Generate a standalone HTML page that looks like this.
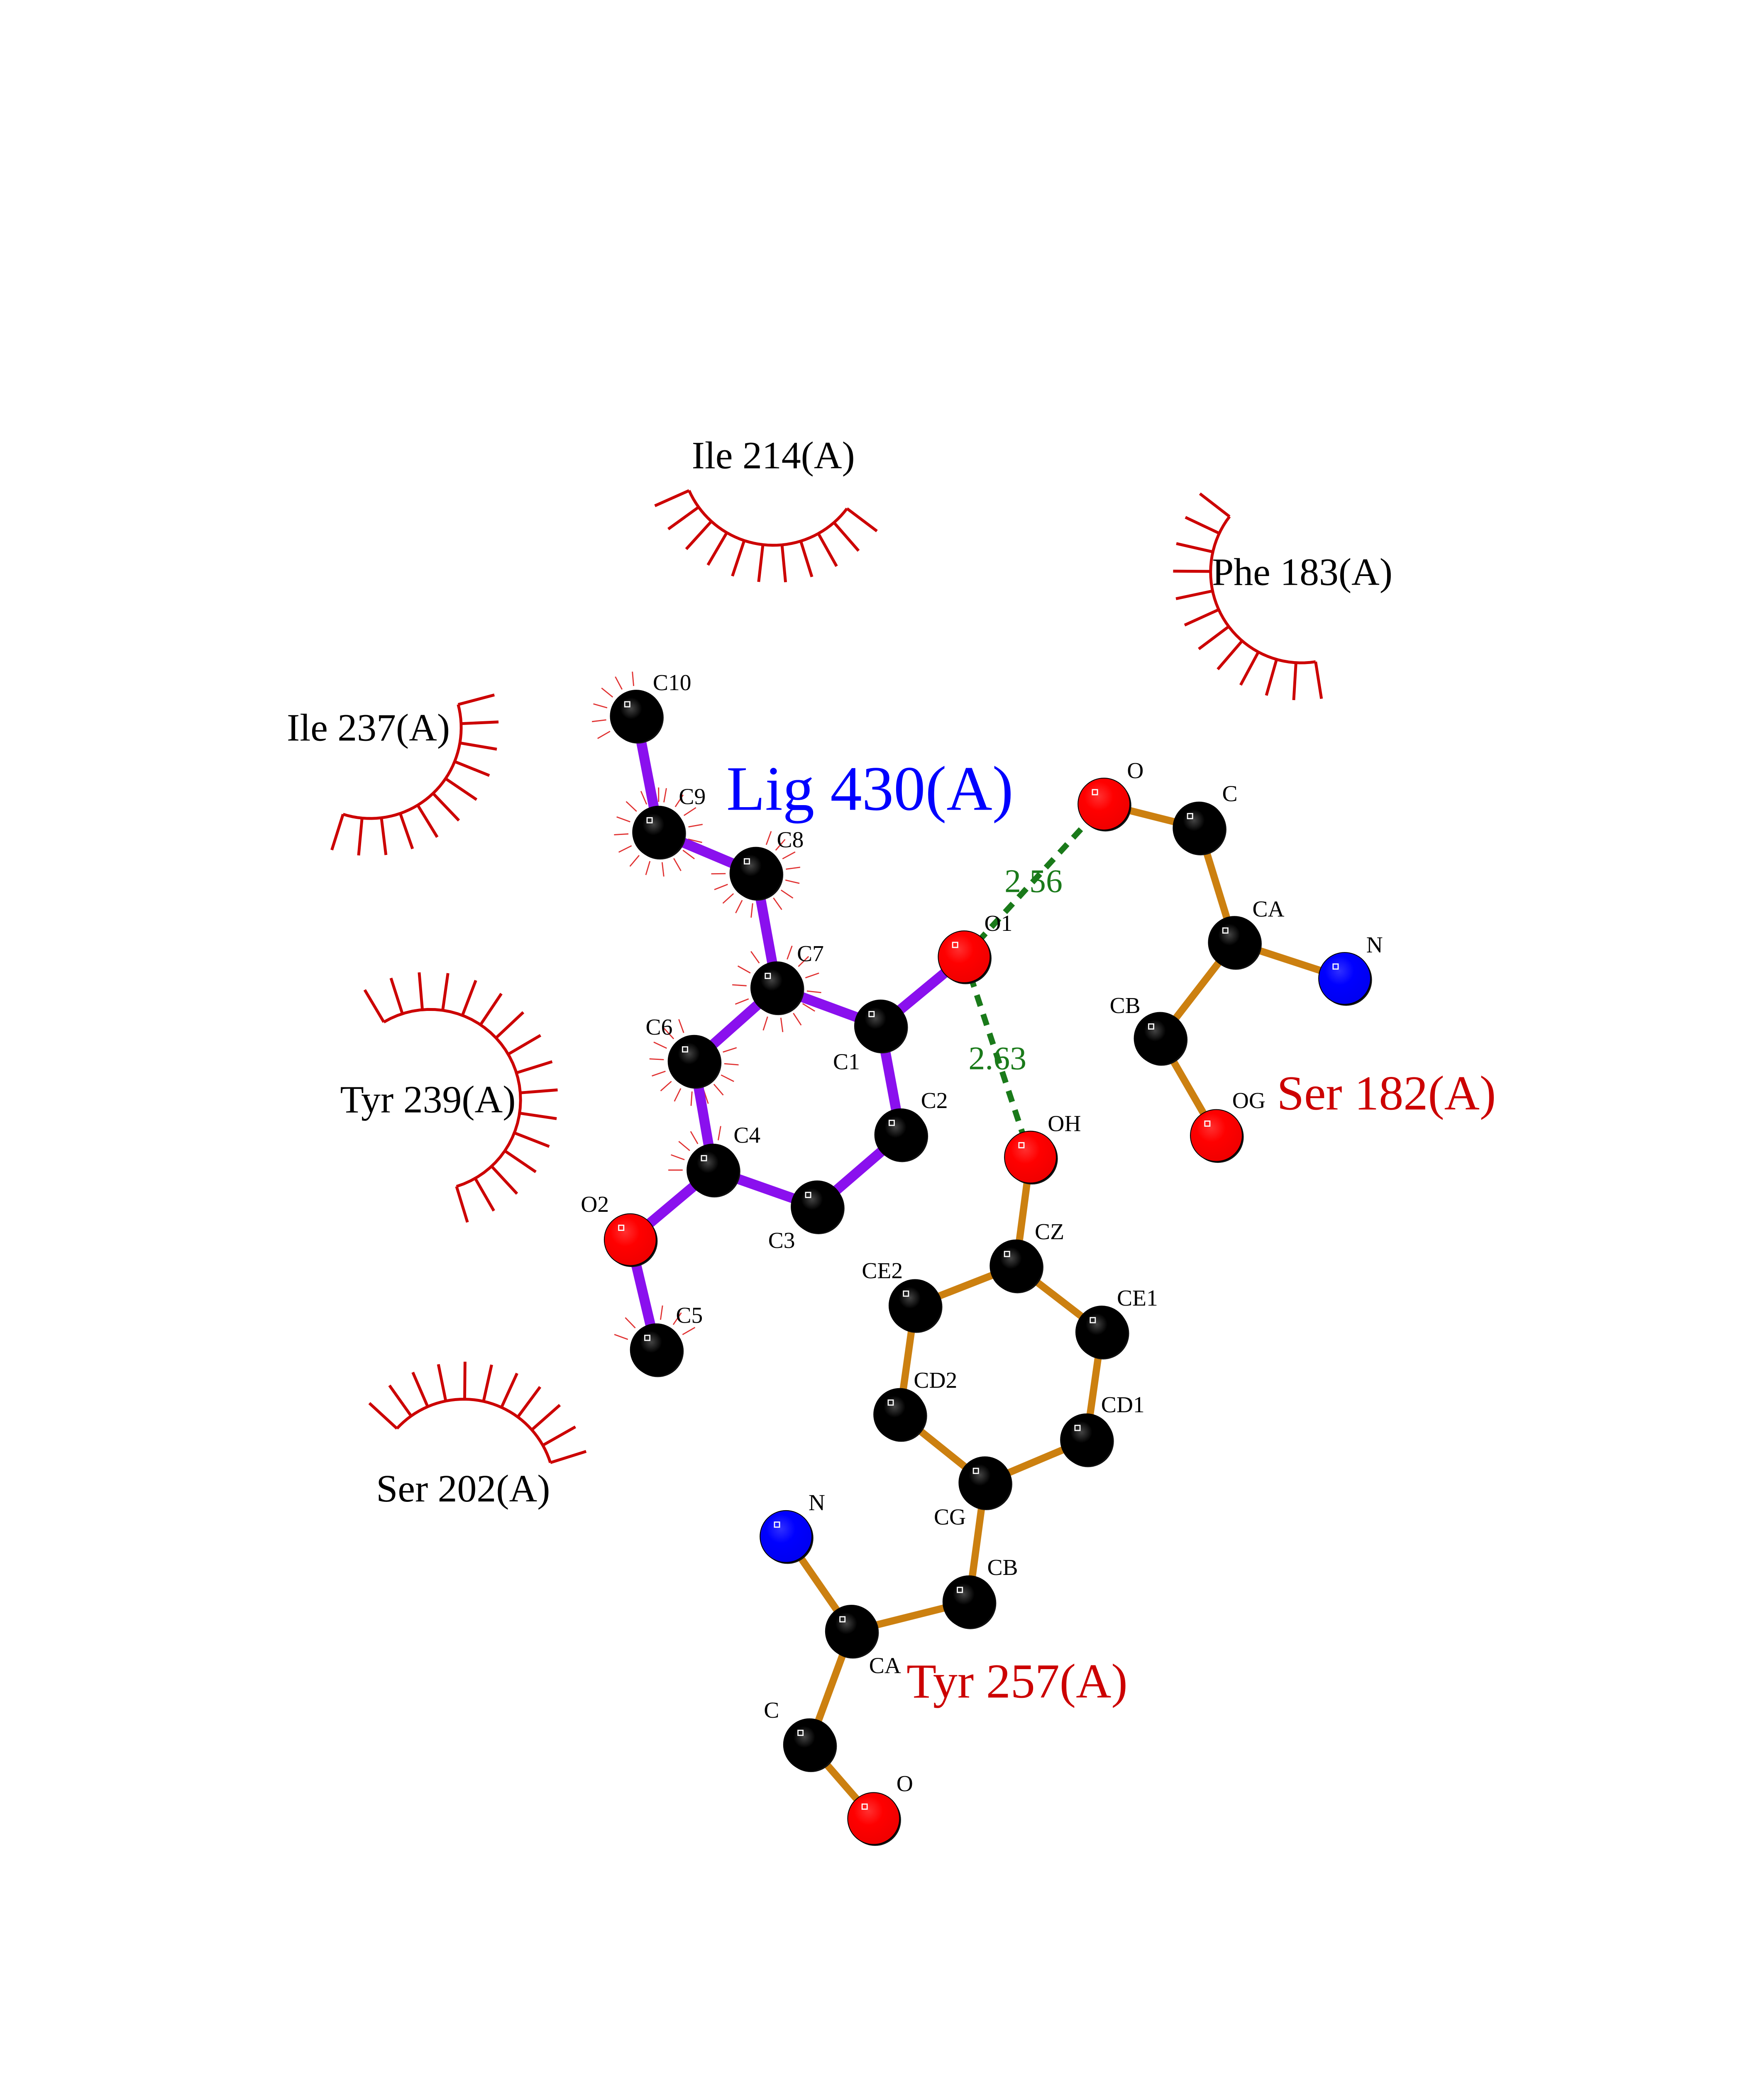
<!DOCTYPE html>
<html><head><meta charset="utf-8">
<style>html,body{margin:0;padding:0;background:#fff;width:4250px;height:5500px;overflow:hidden}svg{display:block;position:absolute;left:0;top:0}</style>
</head><body>
<svg id="s" width="4250" height="5500" viewBox="0 0 1224 1584" xmlns="http://www.w3.org/2000/svg" font-family="'Liberation Serif',serif">
<defs>
<radialGradient id="gk" cx="0.4" cy="0.35" r="0.7"><stop offset="0" stop-color="#444"/><stop offset="0.3" stop-color="#000"/><stop offset="1" stop-color="#000"/></radialGradient>
<radialGradient id="gr" cx="0.4" cy="0.35" r="0.7"><stop offset="0" stop-color="#ff3030"/><stop offset="0.4" stop-color="#f00"/><stop offset="1" stop-color="#e00"/></radialGradient>
<radialGradient id="gb" cx="0.4" cy="0.35" r="0.7"><stop offset="0" stop-color="#3030ff"/><stop offset="0.4" stop-color="#00f"/><stop offset="1" stop-color="#00e"/></radialGradient>
</defs>
<g id="spokes" stroke="#cc0000" fill="none"></g>
<g id="bonds" stroke-linecap="butt"></g>
<g id="hb" stroke="#1a7a1a" stroke-width="4" stroke-dasharray="8,6">
<line x1="669" y1="664" x2="766" y2="558"/>
<line x1="669" y1="664" x2="715" y2="803"/>
</g>
<g id="atoms"></g>
<g font-size="16" fill="#000">
<text x="453" y="479">C10</text><text x="471" y="558">C9</text><text x="539" y="588">C8</text>
<text x="553" y="667">C7</text><text x="448" y="718">C6</text><text x="509" y="793">C4</text>
<text x="533" y="866">C3</text><text x="639" y="769">C2</text><text x="578" y="742">C1</text>
<text x="683" y="646">O1</text><text x="403" y="841">O2</text><text x="469" y="918">C5</text>
<text x="782" y="540">O</text><text x="848" y="556">C</text><text x="869" y="636">CA</text>
<text x="948" y="661">N</text><text x="770" y="703">CB</text><text x="855" y="769">OG</text>
<text x="727" y="785">OH</text><text x="718" y="860">CZ</text><text x="775" y="906">CE1</text>
<text x="764" y="980">CD1</text><text x="648" y="1058">CG</text><text x="634" y="963">CD2</text>
<text x="598" y="887">CE2</text><text x="685" y="1093">CB</text><text x="603" y="1161">CA</text>
<text x="561" y="1048">N</text><text x="530" y="1192">C</text><text x="622" y="1243">O</text>
</g>
<g font-size="23" fill="#1a7a1a"><text x="697" y="619">2.56</text><text x="672" y="742">2.63</text></g>
<g font-size="27" fill="#000">
<text x="480" y="325">Ile 214(A)</text><text x="841" y="406">Phe 183(A)</text>
<text x="199" y="514">Ile 237(A)</text><text x="236" y="772">Tyr 239(A)</text>
<text x="261" y="1042">Ser 202(A)</text>
</g>
<circle cx="60" cy="1484" r="1.3" fill="#000"/>
<text x="504" y="562" font-size="44" fill="#0000ff">Lig 430(A)</text>
<g font-size="34" fill="#cc0000"><text x="886" y="770">Ser 182(A)</text><text x="629" y="1178">Tyr 257(A)</text></g>
</svg>
<script>
var NS="http://www.w3.org/2000/svg";
function el(p,t,a){var e=document.createElementNS(NS,t);for(var k in a)e.setAttribute(k,a[k]);document.getElementById(p).appendChild(e);return e;}
var A={C10:[441.5,497,'k'],C9:[457,577.5,'k'],C8:[524.5,606,'k'],C7:[539,685.5,'k'],C6:[481.6,736.5,'k'],C4:[494.7,812,'k'],C3:[567,837.5,'k'],C2:[625,787.5,'k'],C1:[611,712,'k'],O1:[669,664,'r'],O2:[437.3,860.3,'r'],C5:[455.4,936.7,'k'],
sO:[766,558,'r'],sC:[832,574.6,'k'],sCA:[856.5,654,'k'],sN:[933,679,'b'],sCB:[805,720.6,'k'],sOG:[844,788,'r'],
tOH:[715,803,'r'],tCZ:[705,878.5,'k'],tCE1:[764.5,924.4,'k'],tCD1:[753.9,999.2,'k'],tCG:[683.4,1029,'k'],tCD2:[624.3,981.6,'k'],tCE2:[634.9,906,'k'],tCB:[672.3,1111.6,'k'],tCA:[590.8,1132,'k'],tN:[545.4,1066.3,'b'],tC:[561.7,1210.8,'k'],tO:[606.2,1262,'r']};
var L=[['C10','C9'],['C9','C8'],['C8','C7'],['C7','C6'],['C6','C4'],['C4','C3'],['C3','C2'],['C2','C1'],['C1','C7'],['C1','O1'],['C4','O2'],['O2','C5']];
var P=[['sO','sC'],['sC','sCA'],['sCA','sN'],['sCA','sCB'],['sCB','sOG'],['tOH','tCZ'],['tCZ','tCE1'],['tCE1','tCD1'],['tCD1','tCG'],['tCG','tCD2'],['tCD2','tCE2'],['tCE2','tCZ'],['tCG','tCB'],['tCB','tCA'],['tCA','tN'],['tCA','tC'],['tC','tO']];
function small(c,a0,a1,n){var a=A[c];for(var i=0;i<n;i++){var t=(a0+(a1-a0)*i/(n-1))*Math.PI/180;el('spokes','line',{x1:a[0]+21*Math.cos(t),y1:a[1]+21*Math.sin(t),x2:a[0]+31*Math.cos(t),y2:a[1]+31*Math.sin(t),'stroke-width':0.8,stroke:'#e03030'});}}
small('C10',150,265,6);small('C9',-80,270,16);small('C8',-70,200,14);small('C7',-70,260,14);small('C6',-40,250,14);small('C4',180,280,6);small('C5',200,330,6);
L.forEach(function(b){el('bonds','line',{x1:A[b[0]][0],y1:A[b[0]][1],x2:A[b[1]][0],y2:A[b[1]][1],stroke:'#8a10ee','stroke-width':7});});
P.forEach(function(b){el('bonds','line',{x1:A[b[0]][0],y1:A[b[0]][1],x2:A[b[1]][0],y2:A[b[1]][1],stroke:'#cc8010','stroke-width':5});});
for(var k in A){var a=A[k];el('atoms','circle',{cx:a[0]+1,cy:a[1]+1,r:18,fill:'#111'});el('atoms','circle',{cx:a[0],cy:a[1],r:18,fill:'url(#g'+a[2]+')',stroke:'#000','stroke-width':0.6});
el('atoms','rect',{x:a[0]-8,y:a[1]-10,width:3.5,height:3.5,fill:'none',stroke:'#fff','stroke-width':0.8});}
function arc(cx,cy,r,a0,a1,n,len){var d='';for(var i=0;i<=40;i++){var t=(a0+(a1-a0)*i/40)*Math.PI/180;d+=(i?'L':'M')+(cx+r*Math.cos(t))+' '+(cy+r*Math.sin(t));}
el('spokes','path',{d:d,'stroke-width':2});
for(var i=0;i<n;i++){var t=(a0+(a1-a0)*i/(n-1))*Math.PI/180;el('spokes','line',{x1:cx+r*Math.cos(t),y1:cy+r*Math.sin(t),x2:cx+(r+len)*Math.cos(t),y2:cy+(r+len)*Math.sin(t),'stroke-width':2});}}
arc(536.6,314.4,64,37,156,11,26);
arc(903,397,63,81,217.7,12,26);
arc(257,505,63,-14.8,107.5,11,26);
arc(298.4,763.3,62.8,-120.7,73,16,26);
arc(321.8,1034,63,222.6,342.5,11,26);
</script>
</body></html>
